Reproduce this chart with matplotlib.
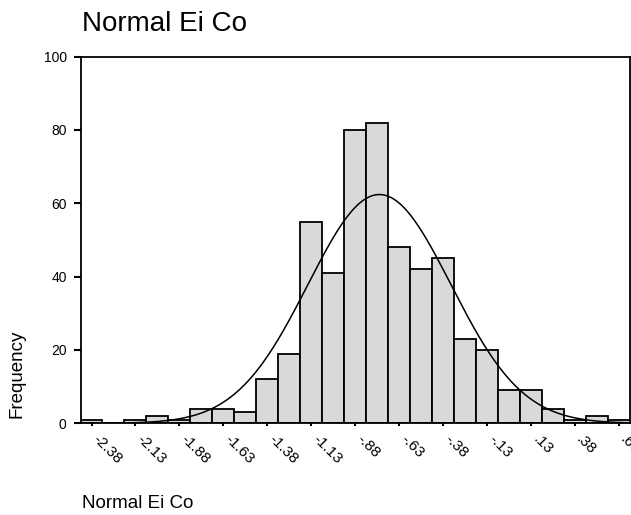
import matplotlib.pyplot as plt
import matplotlib.transforms as mtransforms
import numpy as np

plt.rcParams['font.family'] = ['Liberation Sans', 'DejaVu Sans']

# bin centres (width .125) and counts of the histogram
bin_centers = np.arange(-2.375, 0.626, 0.125)
counts = [1, 0, 1, 2, 1, 4, 4, 3, 12, 19, 55, 41, 80, 82,
          48, 42, 45, 23, 20, 9, 9, 4, 1, 2, 1]
tick_pos = np.arange(-2.375, 0.626, 0.25)
tick_labels = ['-2.38', '-2.13', '-1.88', '-1.63', '-1.38', '-1.13', '-.88',
               '-.63', '-.38', '-.13', '.13', '.38', '.63']
bw = 0.125

counts = np.array(counts)
n = counts.sum()
mean = (counts * bin_centers).sum() / n
sd = np.sqrt((counts * (bin_centers - mean) ** 2).sum() / (n - 1))

fig = plt.figure(figsize=(6.31, 5.15), dpi=100)
ax = fig.add_axes([0.1276, 0.178, 0.8704, 0.712])

ax.bar(bin_centers, counts, width=bw, color='#d9d9d9', edgecolor='black',
       linewidth=1.3, zorder=2)

# fitted normal curve scaled to the counts
xs = np.linspace(-2.2, 0.66, 400)
ys = n * bw / (sd * np.sqrt(2 * np.pi)) * np.exp(-0.5 * ((xs - mean) / sd) ** 2)
ax.plot(xs, ys, color='black', linewidth=1.1, zorder=3)

ax.set_xlim(-2.4375, 0.6875)
ax.set_ylim(0, 100)
ax.set_yticks([0, 20, 40, 60, 80, 100])
ax.set_xticks(tick_pos)
ax.set_xticklabels([])
ax.tick_params(axis='y', labelsize=10, length=5, width=1.5, pad=5)
ax.tick_params(axis='x', length=2, width=1.5)
for s in ax.spines.values():
    s.set_linewidth(1.3)

# slanted tick labels, anchored just right of and below each tick
shift = mtransforms.ScaledTranslation(6.5 / 72, -6.5 / 72, fig.dpi_scale_trans)
trans = ax.get_xaxis_transform() + shift
for x, lab in zip(tick_pos, tick_labels):
    ax.text(x, 0, lab, transform=trans, rotation=-45, ha='left', va='top',
            rotation_mode='anchor', fontsize=11, clip_on=False)

fig.text(17 / 631, 1 - 374 / 515, 'Frequency', fontsize=13.5, rotation=90,
         va='center', ha='center')
fig.text(0.13, 0.953, 'Normal Ei Co', fontsize=20, va='center', ha='left')
fig.text(0.13, 0.023, 'Normal Ei Co', fontsize=13.5, va='center', ha='left')

fig.savefig('out.png', dpi=100)
